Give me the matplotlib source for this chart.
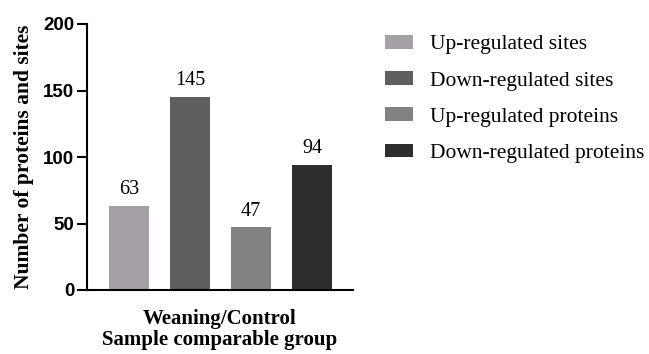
import matplotlib
matplotlib.use('Agg')
import matplotlib.pyplot as plt

# data
categories = ['Up-regulated sites', 'Down-regulated sites',
              'Up-regulated proteins', 'Down-regulated proteins']
counts = [63, 145, 47, 94]
colors = ['#a4a0a5', '#5f5f5f', '#828282', '#2e2e2e']
y_ticks = [0, 50, 100, 150, 200]

fig = plt.figure(figsize=(6.49, 3.54), dpi=100)
ax = fig.add_axes([87 / 649, 1 - 290 / 354, 266 / 649, 266 / 354])

x = list(range(len(counts)))
bars = ax.bar(x, counts, width=0.656, color=colors, label=categories)

for xi, v in zip(x, counts):
    ax.annotate(str(v), (xi, v), xytext=(0, 5), textcoords='offset points',
                ha='center', va='bottom', family='Liberation Serif', fontsize=14.5)

ax.set_xlim(-0.69, 3.67)
ax.set_ylim(0, 200)
ax.set_yticks(y_ticks)
ax.set_xticks([])
for lab in ax.get_yticklabels():
    lab.set_family('Liberation Sans')
    lab.set_fontweight('bold')
    lab.set_fontsize(13.5)
ax.tick_params(axis='y', length=7, width=1.5, pad=2)

for s in ['top', 'right']:
    ax.spines[s].set_visible(False)
for s in ['left', 'bottom']:
    ax.spines[s].set_linewidth(1.5)

ax.set_ylabel('Number of proteins and sites', family='Liberation Serif',
              fontweight='bold', fontsize=15.5, labelpad=7)
ax.set_xlabel('Weaning/Control\nSample comparable group', family='Liberation Serif',
              fontweight='bold', fontsize=15, labelpad=14, linespacing=1.05)

fig.legend(handles=bars, labels=categories, loc='upper left',
           bbox_to_anchor=(385 / 649, 1 - 35 / 354), frameon=False,
           borderpad=0, borderaxespad=0,
           prop={'family': 'Liberation Serif', 'size': 15.5},
           handlelength=1.3, handleheight=0.6, labelspacing=0.78, handletextpad=0.8)

fig.savefig('out.png', dpi=100)
